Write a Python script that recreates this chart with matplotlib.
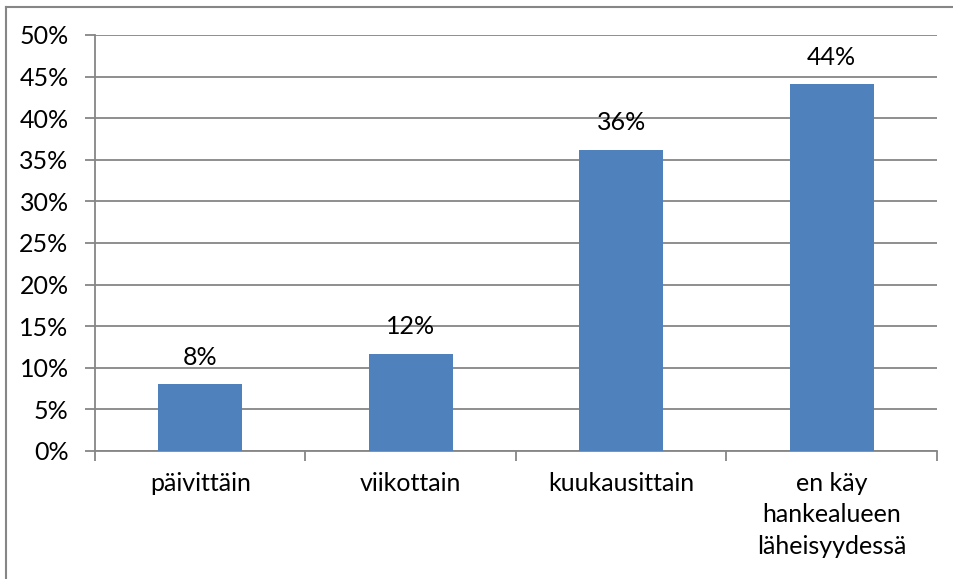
import matplotlib.pyplot as plt
from matplotlib.lines import Line2D
from matplotlib.ticker import MultipleLocator, FuncFormatter

categories = ['päivittäin', 'viikottain', 'kuukausittain',
              'en käy\nhankealueen\nläheisyydessä']
values = [8.0, 11.7, 36.2, 44.1]
labels = ['8%', '12%', '36%', '44%']

plt.rcParams['font.family'] = ['Lato', 'DejaVu Sans']
grey = '#868686'

fig = plt.figure(figsize=(9.54, 5.79), dpi=100)
ax = fig.add_axes([95 / 954, 1 - 451 / 579, (937 - 95) / 954, (451 - 35) / 579])

x = range(len(categories))
bars = ax.bar(x, values, width=0.4, color='#4F81BD', zorder=3)

for b, lab in zip(bars, labels):
    ax.annotate(lab, (b.get_x() + b.get_width() / 2, b.get_height()),
                xytext=(0, 14), textcoords='offset points',
                ha='center', va='baseline', fontsize=18)

ax.set_xlim(-0.5, len(categories) - 0.5)
ax.set_ylim(0, 50)
ax.yaxis.set_major_locator(MultipleLocator(5))
ax.yaxis.set_major_formatter(FuncFormatter(lambda v, p: '%d%%' % v))
ax.grid(axis='y', color=grey, linewidth=1.3, zorder=0)

ax.set_xticks([i - 0.5 for i in range(len(categories) + 1)])
ax.set_xticklabels([])
ax.set_xticks(list(x), minor=True)
ax.set_xticklabels(categories, minor=True, fontsize=18, linespacing=1.45)
ax.tick_params(axis='x', which='major', length=7, color=grey, width=1.3)
ax.tick_params(axis='x', which='minor', length=0, pad=15)
ax.tick_params(axis='y', length=7, color=grey, width=1.3, labelsize=18, pad=12)

for s in ['top', 'right']:
    ax.spines[s].set_visible(False)
for s in ['left', 'bottom']:
    ax.spines[s].set_color(grey)
    ax.spines[s].set_linewidth(1.3)

# chart border (cut off on right and bottom)
fig.add_artist(Line2D([6.5 / 954, 6.5 / 954], [0, 1 - 6.5 / 579], color=grey, lw=1.5))
fig.add_artist(Line2D([6.5 / 954, 1], [1 - 6.5 / 579, 1 - 6.5 / 579], color=grey, lw=1.5))

fig.savefig('out.png', dpi=100)
